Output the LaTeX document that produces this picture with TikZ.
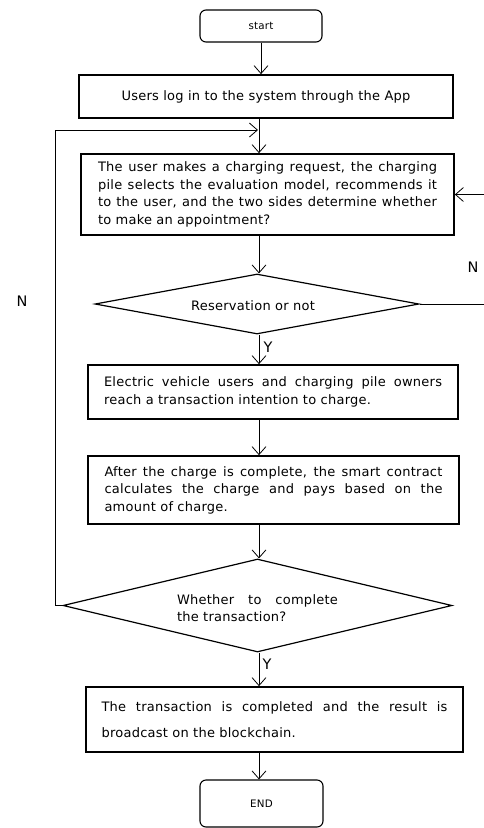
\documentclass[tikz,border=0pt]{standalone}
\usepackage{fontspec}
\setmainfont[LetterSpace=2]{DejaVu Sans}
\newfontfamily\labfont{DejaVu Sans}
\usetikzlibrary{shapes.geometric,arrows.meta,calc}
\newcommand{\jl}[2]{\leavevmode\hbox to #1{\spaceskip=\fontdimen2\font plus 1fil\relax\xspaceskip=\spaceskip #2}}
\begin{document}
\begin{tikzpicture}[x=1pt,y=-1pt,
  box/.style={draw,line width=1.7pt,inner sep=0pt,align=left,font=\fontsize{13}{17.5}\selectfont},
  term/.style={draw,line width=1.1pt,rounded corners=6pt,inner sep=0pt,font=\fontsize{10.3}{12}\selectfont},
  dec/.style={draw,diamond,line width=1.2pt,inner sep=0pt,aspect=4},
  dtext/.style={inner sep=0pt,align=left,font=\fontsize{13}{17.5}\selectfont},
  arr/.style={line width=0.8pt,-{Straight Barb[length=8pt,width=14pt,line width=0.8pt]}},
  lab/.style={inner sep=0pt,font=\labfont\fontsize{14.5}{16}\selectfont}]
\useasboundingbox (0,0) rectangle (484,828);
\clip (0,0) rectangle (484,828);
\coordinate (ax) at (259,0);

\node[term,minimum width=122pt,minimum height=32pt] (start) at (261,26) {start};
\node[box,minimum width=374pt,minimum height=43pt] (b1) at (266,96.5) {Users log in to the system through the App};
\node[box,minimum width=373pt,minimum height=81pt,text width=339pt] (b2) at (267.5,194.5)
  {\jl{339pt}{The user makes a charging request, the charging}\\
   \jl{339pt}{pile selects the evaluation model, recommends it}\\
   \jl{339pt}{to the user, and the two sides determine whether}\\
   to make an appointment?};
\node[dec,minimum width=324pt,minimum height=60pt] (d1) at (257,304) {};
\node[dtext] (d1t) at (253,306) {Reservation or not};
\node[box,minimum width=370pt,minimum height=54pt,text width=338pt] (b3) at (273,392)
  {\jl{338pt}{Electric vehicle users and charging pile owners}\\
   reach a transaction intention to charge.};
\node[box,minimum width=371pt,minimum height=68pt,text width=338pt] (b4) at (273.5,490)
  {\jl{338pt}{After the charge is complete, the smart contract}\\
   \jl{338pt}{calculates the charge and pays based on the}\\
   amount of charge.};
\node[dec,minimum width=389pt,minimum height=93pt] (d2) at (257.5,605.5) {};
\node[dtext,text width=161pt] (d2t) at (257.5,608)
  {\jl{161pt}{Whether to complete}\\
   the transaction?};
\node[box,minimum width=377pt,minimum height=65pt,text width=346pt,font=\fontsize{13}{26}\selectfont] (b5) at (274.5,719.5)
  {\jl{346pt}{The transaction is completed and the result is}\\
   broadcast on the blockchain.};
\node[term,minimum width=123pt,minimum height=47pt] (end) at (261.5,803.5) {END};

\node[lab] (nl) at (22,301) {N};
\node[lab] (nr) at (473,267) {N};
\node[lab] (y1) at (268,347) {Y};
\node[lab] (y2) at (267,664) {Y};

\coordinate (j1) at (258,130);

\draw[arr] (start.south) -- (start.south |- b1.north);
\draw[arr] (b1.south -| ax) -- (b2.north -| ax);
\draw[arr] (b2.south -| ax) -- (d1.north -| ax);
\draw[arr] (d1.south -| ax) -- (b3.north -| ax);
\draw[arr] (b3.south -| ax) -- (b4.north -| ax);
\draw[arr] (b4.south -| ax) -- (d2.north -| ax);
\draw[arr] (d2.south -| ax) -- (b5.north -| ax);
\draw[arr] (b5.south -| ax) -- (end.north -| ax);
\draw[arr] (d2.west) -- (55,605.5) |- (j1);
\draw[arr] (d1.east) -- (492,304) |- (b2.east);
\end{tikzpicture}
\end{document}
